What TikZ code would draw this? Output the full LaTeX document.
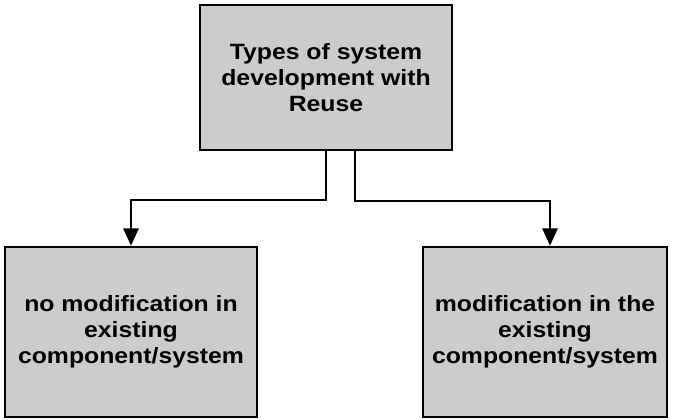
\documentclass[tikz,border=0pt]{standalone}
\usepackage{fontspec}
\setmainfont{Liberation Sans}[FakeStretch=1.12]
\usetikzlibrary{arrows.meta}
\definecolor{boxgray}{RGB}{204,204,204}
\tikzset{
  box/.style={draw=black, line width=2pt, fill=boxgray, align=center,
    font=\fontsize{16.6}{19.5}\selectfont\bfseries, inner sep=0pt},
  conn/.style={line width=1.5pt, -{Triangle[length=13pt,width=11.5pt]}}
}
\begin{document}
\begin{tikzpicture}[x=0.75pt,y=-0.75pt]
\useasboundingbox (0,0) rectangle (676,420);
\node[box, minimum width=189pt, minimum height=108.75pt] (top) at (326,77.5)
  {Types of system\\development with\\Reuse};
\node[box, minimum width=189pt, minimum height=127.5pt] (left) at (131,332)
  {no modification in\\existing\\component/system};
\node[box, minimum width=183pt, minimum height=127.5pt] (right) at (545,332)
  {modification in the\\existing\\component/system};
\draw[conn] (top.south) -- ++(0,49) -| (left.north);
\draw[conn] ([xshift=21.75pt]top.south) -- ++(0,50) -| ([xshift=3.75pt]right.north);
\end{tikzpicture}
\end{document}
